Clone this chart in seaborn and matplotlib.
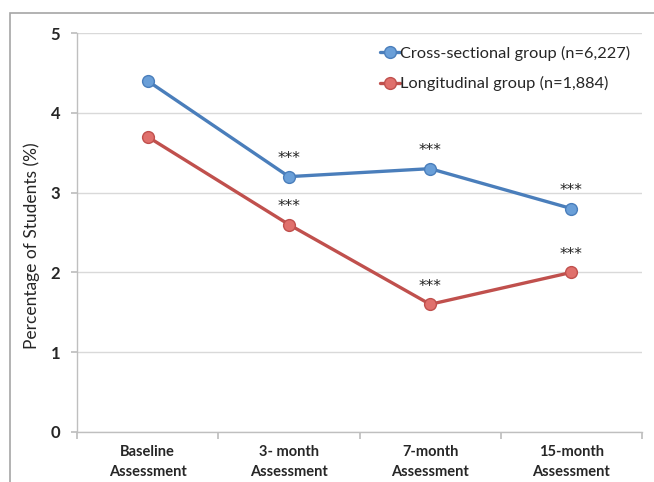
import matplotlib
matplotlib.use("Agg")
import matplotlib.pyplot as plt
import matplotlib.patches as mpatches
import seaborn as sns
import pandas as pd

categories = ["Baseline\nAssessment", "3- month\nAssessment", "7-month\nAssessment", "15-month\nAssessment"]
cross_sectional = [4.4, 3.2, 3.3, 2.8]
longitudinal = [3.7, 2.6, 1.6, 2.0]
series_names = ["Cross-sectional group (n=6,227)", "Longitudinal group (n=1,884)"]
cross_stars = ["", "***", "***", "***"]
long_stars = ["", "***", "***", "***"]
y_ticks = [0, 1, 2, 3, 4, 5]

sns.set_theme(style="white")
plt.rcParams["font.family"] = ["Lato", "DejaVu Sans"]

df = pd.DataFrame({
    "Assessment": categories * 2,
    "Value": cross_sectional + longitudinal,
    "Group": [series_names[0]] * 4 + [series_names[1]] * 4,
})

fig = plt.figure(figsize=(6.54, 4.82), dpi=100)
ax = fig.add_axes([77/654, 1 - 432/482, (642-77)/654, (432-33)/482])

line_colors = {series_names[0]: "#4A7EBB", series_names[1]: "#C0504D"}
face_colors = {series_names[0]: "#6A9FD8", series_names[1]: "#E0706C"}

sns.lineplot(data=df, x="Assessment", y="Value", hue="Group", palette=line_colors,
             linewidth=2.4, sort=False, legend=False, ax=ax)
for name, vals in zip(series_names, [cross_sectional, longitudinal]):
    ax.plot(range(len(categories)), vals, linestyle="none", marker="o", markersize=8.5,
            markerfacecolor=face_colors[name], markeredgecolor=line_colors[name],
            markeredgewidth=1.0, zorder=5)

for vals, stars in [(cross_sectional, cross_stars), (longitudinal, long_stars)]:
    for i, (v, s) in enumerate(zip(vals, stars)):
        if s:
            ax.annotate(s, (i, v), xytext=(0, 13), textcoords="offset points",
                        ha="center", va="center", fontsize=11, color="#222222",
                        family=["DejaVu Sans"])

ax.set_xlim(-0.5, len(categories) - 0.5)
ax.set_ylim(0, 5)
ax.set_yticks(y_ticks)
ax.set_yticklabels([str(t) for t in y_ticks], fontweight="bold", fontsize=12)
ax.yaxis.grid(True, color="#D9D9D9", linewidth=1)
ax.set_axisbelow(True)

ax.set_xticks([i - 0.5 for i in range(len(categories) + 1)])
ax.set_xticklabels([""] * (len(categories) + 1))
ax.set_xticks(range(len(categories)), minor=True)
ax.set_xticklabels(categories, minor=True, fontweight="bold", fontsize=10.5, linespacing=1.6)
ax.tick_params(axis="x", which="major", length=5, color="#BFBFBF", direction="out", bottom=True)
ax.tick_params(axis="x", which="minor", length=0, pad=9)
ax.tick_params(axis="y", length=4, color="#BFBFBF", direction="out", left=True, pad=8)

for side in ["top", "right"]:
    ax.spines[side].set_visible(False)
for side in ["left", "bottom"]:
    ax.spines[side].set_color("#BFBFBF")
    ax.spines[side].set_linewidth(1)

ax.set_xlabel("")
ax.set_ylabel("Percentage of Students (%)", fontsize=12.5)
ax.yaxis.set_label_coords(-0.066, 0.466)

handles = [plt.Line2D([], [], color=line_colors[n], linewidth=2.4, marker="o", markersize=8.5,
                      markerfacecolor=face_colors[n], markeredgecolor=line_colors[n])
           for n in series_names]
ax.legend(handles, series_names, loc="upper left", bbox_to_anchor=(0.51, 1.005),
          frameon=False, fontsize=11.8, handlelength=1.2, handletextpad=0.05,
          labelspacing=0.95)

fig.add_artist(mpatches.Rectangle((10/654, -0.1), 1.2, 1 - 13/482 + 0.1,
                                  transform=fig.transFigure, fill=False,
                                  edgecolor="#A6A6A6", linewidth=1.2))

fig.savefig("out.png", dpi=100)
